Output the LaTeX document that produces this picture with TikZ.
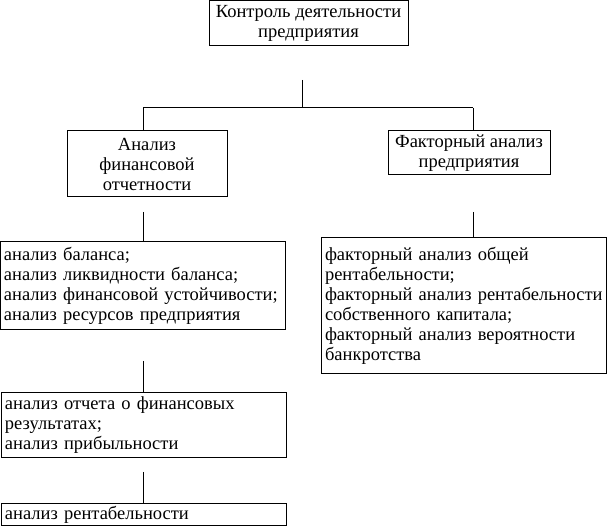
\documentclass[tikz,border=0pt]{standalone}
\usepackage{fontspec}
\setmainfont{Liberation Serif}
\newcommand{\boxfont}{\fontsize{18.5}{20}\selectfont}
\newcommand{\drawlink}{\draw[line width=1pt]}
\tikzset{
  x=1pt, y=1pt,
  headbox/.style={draw, line width=1pt, align=center, inner sep=0pt, font=\boxfont},
  listbox/.style={draw, line width=1pt, align=left, anchor=north west,
    inner xsep=3.5pt, inner ysep=0pt, text width=278pt, font=\boxfont},
}

\begin{document}
\begin{tikzpicture}
\useasboundingbox (0,0) rectangle (608,526);
% upper level
\node[headbox, minimum width=199, minimum height=45] (control) at (308.5,502.5)
  {Контроль деятельности\\предприятия};
\node[headbox, minimum width=160, minimum height=66] (finrep) at (147,362)
  {Анализ\\финансовой\\отчетности};
\node[headbox, minimum width=162, minimum height=44] (factor) at (469,373)
  {Факторный анализ\\предприятия};
% lists
\node[listbox, minimum height=88] (balance) at (0,285)
  {анализ баланса;\\анализ ликвидности баланса;\\анализ финансовой устойчивости;\\анализ ресурсов предприятия};
\node[listbox, minimum height=136] (factlist) at (321,289)
  {факторный анализ общей\\рентабельности;\\факторный анализ рентабельности\\собственного капитала;\\факторный анализ вероятности\\банкротства};
\node[listbox, minimum height=65] (results) at (1,134)
  {анализ отчета о финансовых\\результатах;\\анализ прибыльности};
\node[listbox, minimum height=22] (rentab) at (1,23)
  {анализ рентабельности};
% links
\coordinate (hub) at (302,446);
\coordinate (fork) at (302,418);
\coordinate (lfork) at (143,418);
\coordinate (rfork) at (473,418);
\drawlink (hub) -- (fork);
\drawlink (lfork) -- (rfork);
\drawlink (lfork) -- (lfork |- finrep.north);
\drawlink (rfork) -- (rfork |- factor.north);
\coordinate (lone) at (143,314);
\coordinate (rone) at (473,314);
\drawlink (lone) -- (lone |- balance.north);
\drawlink (rone) -- (rone |- factlist.north);
\coordinate (ltwo) at (143,165);
\drawlink (ltwo) -- (ltwo |- results.north);
\coordinate (lthree) at (143,54);
\drawlink (lthree) -- (lthree |- rentab.north);
\end{tikzpicture}
\end{document}
